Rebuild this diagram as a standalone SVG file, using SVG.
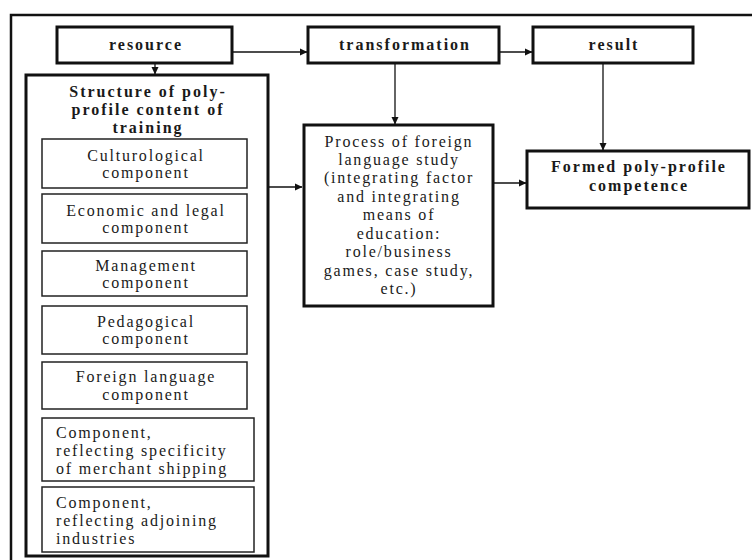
<svg xmlns="http://www.w3.org/2000/svg" width="752" height="560" viewBox="0 0 752 560">
<defs>
<marker id="ah" markerWidth="8" markerHeight="8" refX="7" refY="4" orient="auto" markerUnits="userSpaceOnUse">
<path d="M0,0.5 L7.5,4 L0,7.5 Z" fill="#111"/>
</marker>
<style>
.thick{fill:#fff;stroke:#111;stroke-width:3}
.thin{fill:#fff;stroke:#222;stroke-width:1.5}
.frame{fill:none;stroke:#111;stroke-width:2.5}
.b{font-family:"Liberation Serif","Times New Roman",serif;font-weight:bold;font-size:16px;letter-spacing:2px;fill:#1a1a1a;text-anchor:middle}
.r{font-family:"Liberation Serif","Times New Roman",serif;font-size:16px;letter-spacing:1.8px;fill:#1a1a1a;text-anchor:middle}
.l{font-family:"Liberation Serif","Times New Roman",serif;font-size:16px;letter-spacing:1.8px;fill:#1a1a1a}
.c{fill:none;stroke:#111;stroke-width:1.3;marker-end:url(#ah)}
</style>
</defs>
<rect width="752" height="560" fill="#fff"/>
<path class="frame" d="M11,560 L11,15 L752,15"/>
<g id="connectors">
<line class="c" x1="155" y1="63" x2="155" y2="74"/>
<line class="c" x1="232" y1="52" x2="307" y2="52"/>
<line class="c" x1="499" y1="52" x2="532" y2="52"/>
<line class="c" x1="395" y1="63" x2="395" y2="124"/>
<line class="c" x1="603" y1="63" x2="603" y2="150"/>
<line class="c" x1="268" y1="187" x2="302" y2="187"/>
<line class="c" x1="493" y1="183" x2="526" y2="183"/>
</g>
<g id="resource">
<rect class="thick" x="57" y="27" width="175" height="36"/>
<text class="b" x="146" y="50">resource</text>
</g>
<g id="transformation">
<rect class="thick" x="308" y="27" width="191" height="36"/>
<text class="b" x="405" y="50">transformation</text>
</g>
<g id="result">
<rect class="thick" x="533" y="27" width="160" height="36"/>
<text class="b" x="614" y="50">result</text>
</g>
<g id="structure">
<rect class="thick" x="26" y="75" width="242" height="481"/>
<text class="b" x="148" y="97">Structure of poly-</text>
<text class="b" x="148" y="115">profile content of</text>
<text class="b" x="148" y="133">training</text>
</g>
<g id="culturological">
<rect class="thin" x="42" y="139" width="205" height="49"/>
<text class="r" x="146" y="161">Culturological</text>
<text class="r" x="146" y="178">component</text>
</g>
<g id="economic">
<rect class="thin" x="42" y="194" width="205" height="49"/>
<text class="r" x="146" y="216">Economic and legal</text>
<text class="r" x="146" y="233">component</text>
</g>
<g id="management">
<rect class="thin" x="42" y="251" width="205" height="45"/>
<text class="r" x="146" y="271">Management</text>
<text class="r" x="146" y="288">component</text>
</g>
<g id="pedagogical">
<rect class="thin" x="42" y="306" width="205" height="48"/>
<text class="r" x="146" y="327">Pedagogical</text>
<text class="r" x="146" y="344">component</text>
</g>
<g id="foreign">
<rect class="thin" x="42" y="362" width="205" height="47"/>
<text class="r" x="146" y="382">Foreign language</text>
<text class="r" x="146" y="400">component</text>
</g>
<g id="merchant">
<rect class="thin" x="42" y="418" width="212" height="63"/>
<text class="l" x="56" y="438">Component,</text>
<text class="l" x="56" y="456">reflecting specificity</text>
<text class="l" x="56" y="474">of merchant shipping</text>
</g>
<g id="adjoining">
<rect class="thin" x="42" y="487" width="212" height="65"/>
<text class="l" x="56" y="508">Component,</text>
<text class="l" x="56" y="526">reflecting adjoining</text>
<text class="l" x="56" y="544">industries</text>
</g>
<g id="process">
<rect class="thick" x="304" y="125" width="189" height="181"/>
<text class="r" x="399" y="147">Process of foreign</text>
<text class="r" x="399" y="165">language study</text>
<text class="r" x="399" y="183">(integrating factor</text>
<text class="r" x="399" y="202">and integrating</text>
<text class="r" x="399" y="220">means of</text>
<text class="r" x="399" y="239">education:</text>
<text class="r" x="399" y="257">role/business</text>
<text class="r" x="399" y="276">games, case study,</text>
<text class="r" x="399" y="294">etc.)</text>
</g>
<g id="formed">
<rect class="thick" x="527" y="151" width="222" height="57"/>
<text class="b" x="639" y="172">Formed poly-profile</text>
<text class="b" x="639" y="191">competence</text>
</g>
</svg>
